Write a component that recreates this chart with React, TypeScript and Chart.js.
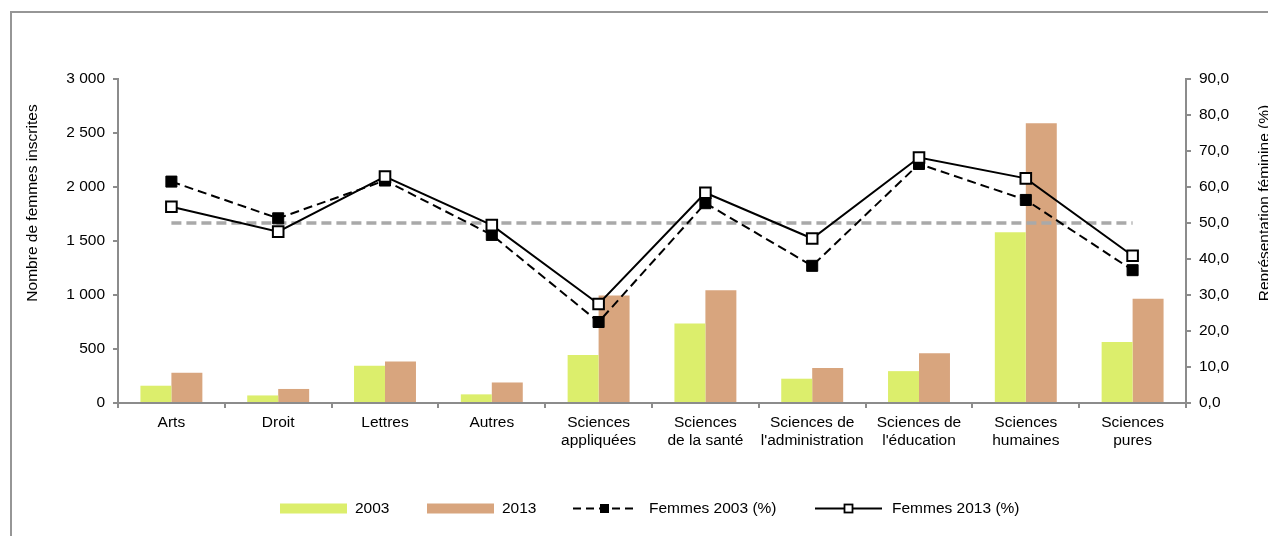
import React, { useEffect, useRef } from 'react';
import { Chart, registerables } from 'chart.js';

Chart.register(...registerables);

const categories: string[][] = [
  ['Arts'],
  ['Droit'],
  ['Lettres'],
  ['Autres'],
  ['Sciences', 'appliquées'],
  ['Sciences', 'de la santé'],
  ['Sciences de', "l'administration"],
  ['Sciences de', "l'éducation"],
  ['Sciences', 'humaines'],
  ['Sciences', 'pures'],
];
const inscrites2003 = [160, 70, 345, 80, 445, 735, 225, 295, 1580, 565];
const inscrites2013 = [280, 130, 385, 190, 995, 1045, 325, 460, 2590, 965];
const femmes2003 = [61.5, 51.3, 61.8, 46.7, 22.5, 55.5, 38.1, 66.4, 56.4, 36.9];
const femmes2013 = [54.5, 47.6, 62.9, 49.4, 27.5, 58.4, 45.7, 68.2, 62.4, 40.9];
const parite = [50, 50, 50, 50, 50, 50, 50, 50, 50, 50];

const leftMax = 3000;
const leftStep = 500;
const rightMax = 90;
const rightStep = 10;

const legendLabels = ['2003', '2013', 'Femmes 2003 (%)', 'Femmes 2013 (%)'];

const GREEN = '#dcee6c';
const TAN = '#d8a57e';
const AXIS = '#8c8c8c';
const FONT = "'Liberation Sans', Arial, sans-serif";

const fmtThousands = (v: number) => String(v).replace(/\B(?=(\d{3})+(?!\d))/g, ' ');
const fmtPct = (v: number) => v.toFixed(1).replace('.', ',');

const decorPlugin = {
  id: 'decor',
  beforeDraw(chart: any) {
    const ctx = chart.ctx as CanvasRenderingContext2D;
    ctx.save();
    ctx.fillStyle = '#ffffff';
    ctx.fillRect(0, 0, chart.width, chart.height);
    ctx.strokeStyle = '#969696';
    ctx.lineWidth = 2;
    ctx.strokeRect(11, 12, chart.width + 40, chart.height + 40);
    ctx.restore();
  },
  afterDraw(chart: any) {
    const ctx = chart.ctx as CanvasRenderingContext2D;
    ctx.save();
    // axis titles
    ctx.fillStyle = '#000';
    ctx.font = `15.5px ${FONT}`;
    ctx.textAlign = 'center';
    ctx.textBaseline = 'alphabetic';
    ctx.save();
    ctx.translate(37, 203);
    ctx.rotate(-Math.PI / 2);
    ctx.fillText('Nombre de femmes inscrites', 0, 0);
    ctx.restore();
    ctx.save();
    ctx.translate(1268.5, 203);
    ctx.rotate(-Math.PI / 2);
    ctx.fillText('Représentation féminine (%)', 0, 0);
    ctx.restore();

    // legend
    const cy = 508.5;
    ctx.font = `15.5px ${FONT}`;
    ctx.textBaseline = 'middle';
    ctx.textAlign = 'left';
    const symX = [280, 427, 573, 815];
    const symW = [67, 67, 63, 67];
    const textGap = [8, 8, 13, 10];
    legendLabels.forEach((label, i) => {
      const x = symX[i];
      const w = symW[i];
      if (i === 0 || i === 1) {
        ctx.fillStyle = i === 0 ? GREEN : TAN;
        ctx.fillRect(x, cy - 5, w, 10);
      } else {
        ctx.strokeStyle = '#000';
        ctx.lineWidth = 2;
        ctx.setLineDash(i === 2 ? [8, 5] : []);
        ctx.beginPath();
        ctx.moveTo(x, cy);
        ctx.lineTo(x + w, cy);
        ctx.stroke();
        ctx.setLineDash([]);
        const m = 8;
        const mx = x + w / 2;
        if (i === 2) {
          ctx.fillStyle = '#000';
          ctx.fillRect(mx - m / 2 - 0.5, cy - m / 2 - 0.5, m + 1, m + 1);
        } else {
          ctx.fillStyle = '#fff';
          ctx.fillRect(mx - m / 2, cy - m / 2, m, m);
          ctx.lineWidth = 1.8;
          ctx.strokeRect(mx - m / 2, cy - m / 2, m, m);
        }
      }
      ctx.fillStyle = '#000';
      ctx.fillText(label, x + w + textGap[i], cy);
    });
    ctx.restore();
  },
};

export default function App() {
  const ref = useRef<HTMLCanvasElement | null>(null);

  useEffect(() => {
    if (!ref.current) return;
    Chart.defaults.font.family = FONT;
    Chart.defaults.font.size = 15.5;
    Chart.defaults.color = '#000';

    const chart = new Chart(ref.current, {
      type: 'bar',
      data: {
        labels: categories,
        datasets: [
          {
            type: 'line',
            label: 'Femmes 2013 (%)',
            data: femmes2013,
            yAxisID: 'y1',
            borderColor: '#000',
            borderWidth: 2,
            pointStyle: 'rect',
            pointRadius: 7.5,
            pointBorderWidth: 2,
            pointBackgroundColor: '#fff',
            pointBorderColor: '#000',
            tension: 0,
            order: 0,
          } as any,
          {
            type: 'line',
            label: 'Femmes 2003 (%)',
            data: femmes2003,
            yAxisID: 'y1',
            borderColor: '#000',
            borderWidth: 2,
            borderDash: [9, 5],
            pointStyle: 'rect',
            pointRadius: 7.8,
            pointBorderWidth: 1,
            pointBackgroundColor: '#000',
            pointBorderColor: '#000',
            tension: 0,
            order: 1,
          } as any,
          {
            type: 'line',
            label: 'Parité',
            data: parite,
            yAxisID: 'y1',
            borderColor: '#a9a9a9',
            borderWidth: 3.5,
            borderDash: [10, 5],
            pointRadius: 0,
            tension: 0,
            order: 2,
          } as any,
          {
            type: 'bar',
            label: '2003',
            data: inscrites2003,
            yAxisID: 'y',
            backgroundColor: GREEN,
            borderWidth: 0,
            categoryPercentage: 0.58,
            barPercentage: 1,
            order: 3,
          },
          {
            type: 'bar',
            label: '2013',
            data: inscrites2013,
            yAxisID: 'y',
            backgroundColor: TAN,
            borderWidth: 0,
            categoryPercentage: 0.58,
            barPercentage: 1,
            order: 3,
          },
        ],
      },
      options: {
        animation: false,
        responsive: false,
        devicePixelRatio: 1,
        layout: { padding: { top: 79, left: 0, right: 0, bottom: 0 } },
        plugins: {
          legend: { display: false },
          tooltip: { enabled: false },
          title: { display: false },
        },
        scales: {
          x: {
            offset: true,
            grid: {
              display: true,
              offset: true,
              drawOnChartArea: false,
              drawTicks: true,
              tickLength: 5,
              color: AXIS,
              lineWidth: 2,
            },
            border: { display: true, color: AXIS, width: 2 },
            ticks: {
              padding: 6,
              maxRotation: 0,
              autoSkip: false,
              color: '#000',
              font: { size: 15.5, lineHeight: 1.13 },
            },
            afterFit: (scale: any) => {
              scale.height = 133;
            },
          },
          y: {
            position: 'left',
            min: 0,
            max: leftMax,
            grid: {
              display: true,
              drawOnChartArea: false,
              drawTicks: true,
              tickLength: 5,
              color: AXIS,
              lineWidth: 2,
            },
            border: { display: true, color: AXIS, width: 2 },
            ticks: {
              stepSize: leftStep,
              padding: 8,
              color: '#000',
              callback: (v: any) => fmtThousands(Number(v)),
            },
            afterFit: (scale: any) => {
              scale.width = 118;
            },
          },
          y1: {
            position: 'right',
            min: 0,
            max: rightMax,
            grid: {
              display: true,
              drawOnChartArea: false,
              drawTicks: true,
              tickLength: 5,
              color: AXIS,
              lineWidth: 2,
            },
            border: { display: true, color: AXIS, width: 2 },
            ticks: {
              stepSize: rightStep,
              padding: 8,
              color: '#000',
              callback: (v: any) => fmtPct(Number(v)),
            },
            afterFit: (scale: any) => {
              scale.width = 82;
            },
          },
        },
      },
      plugins: [decorPlugin],
    });
    return () => chart.destroy();
  }, []);

  return (
    <div style={{ position: 'absolute', left: 0, top: 0, width: 1268, height: 536, overflow: 'hidden' }}>
      <canvas ref={ref} width={1268} height={536} style={{ display: 'block' }} />
    </div>
  );
}
